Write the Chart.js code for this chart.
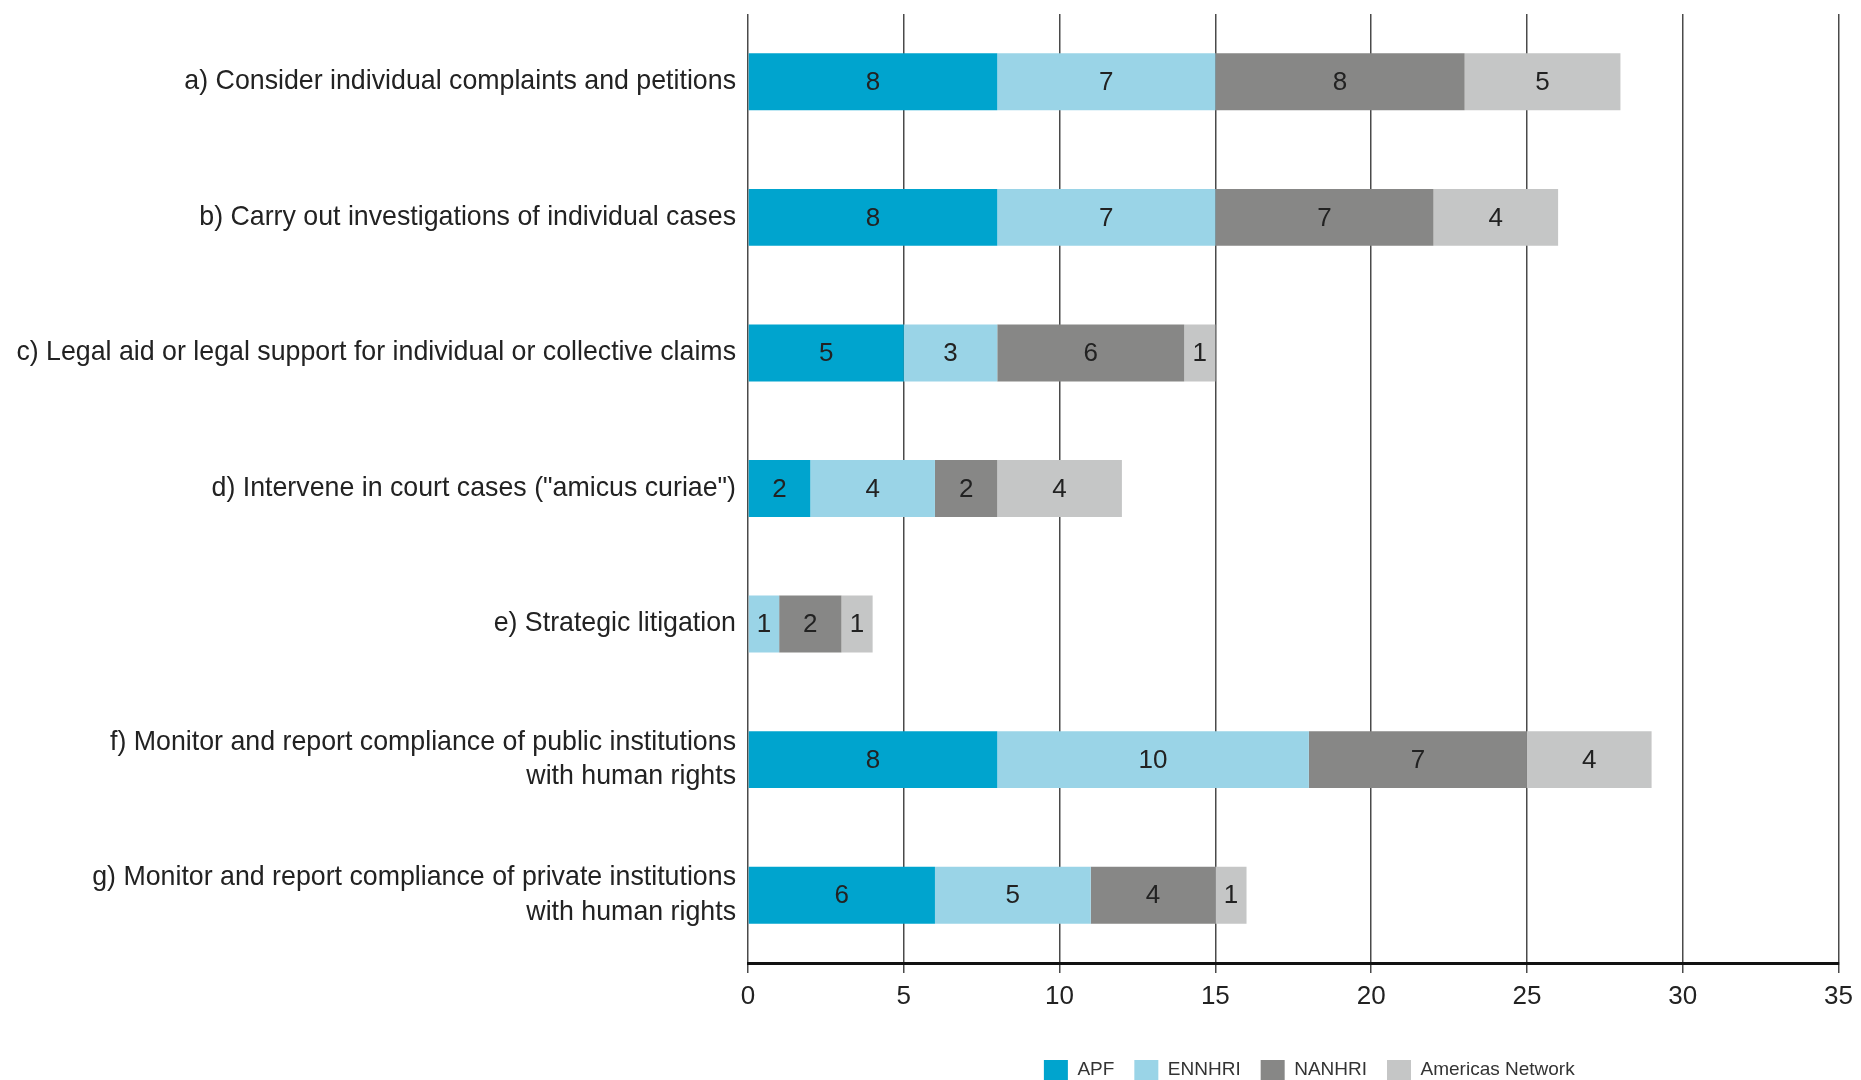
<!DOCTYPE html>
<html><head><meta charset="utf-8">
<script src="https://cdn.jsdelivr.net/npm/chart.js@4.4.1/dist/chart.umd.min.js"></script>
<style>html,body{margin:0;padding:0;background:#fff;overflow:hidden}canvas{display:block}</style>
</head><body>
<canvas id="c" width="1861" height="1080"></canvas>
<script>
const categories = [
  "a) Consider individual complaints and petitions",
  "b) Carry out investigations of individual cases",
  "c) Legal aid or legal support for individual or collective claims",
  "d) Intervene in court cases (\"amicus curiae\")",
  "e) Strategic litigation",
  ["f) Monitor and report compliance of public institutions", "with human rights"],
  ["g) Monitor and report compliance of private institutions", "with human rights"]
];
const seriesNames = ["APF", "ENNHRI", "NANHRI", "Americas Network"];
const apf      = [8, 8, 5, 2, 0, 8, 6];
const ennhri   = [7, 7, 3, 4, 1, 10, 5];
const nanhri   = [8, 7, 6, 2, 2, 7, 4];
const americas = [5, 4, 1, 4, 1, 4, 1];
const xTickValues = [0, 5, 10, 15, 20, 25, 30, 35];
const seriesColors = ["#00a4ce", "#9ad4e7", "#878786", "#c5c6c6"];

const FONT = "'Liberation Sans Narrow', 'Arial Narrow', 'Liberation Sans', sans-serif";

const valueLabels = {
  id: 'valueLabels',
  afterDatasetsDraw(chart) {
    const ctx = chart.ctx;
    ctx.save();
    ctx.font = "26px " + FONT;
    ctx.fillStyle = '#222';
    ctx.textAlign = 'center';
    ctx.textBaseline = 'middle';
    chart.data.datasets.forEach((ds, i) => {
      const meta = chart.getDatasetMeta(i);
      meta.data.forEach((el, j) => {
        const v = ds.data[j];
        if (!v) return;
        const p = el.getProps(['x', 'y', 'base'], true);
        ctx.fillText(String(v), (p.x + p.base) / 2, p.y + 1);
      });
    });
    ctx.restore();
  }
};

const legendShift = {
  id: 'legendShift',
  afterLayout(chart) {
    const lg = chart.legend;
    if (lg) { lg.left += 16; lg.right += 16; }
  }
};

const seriesData = [apf, ennhri, nanhri, americas];
const datasets = seriesNames.map((name, i) => ({
  label: name,
  data: seriesData[i],
  backgroundColor: seriesColors[i],
  borderWidth: 0,
  categoryPercentage: 1.0,
  barPercentage: 0.42
}));

new Chart(document.getElementById('c'), {
  type: 'bar',
  data: { labels: categories, datasets },
  plugins: [valueLabels, legendShift],
  options: {
    indexAxis: 'y',
    responsive: false,
    animation: false,
    devicePixelRatio: 1,
    layout: { padding: { left: 16, right: 21, top: 14, bottom: -10 } },
    plugins: {
      tooltip: { enabled: false },
      legend: {
        position: 'bottom',
        fullSize: false,
        labels: {
          boxWidth: 24,
          boxHeight: 20,
          padding: 20,
          color: '#333',
          font: { family: FONT, size: 19 }
        }
      }
    },
    scales: {
      x: {
        stacked: true,
        min: 0,
        max: 35,
        afterBuildTicks(scale) { scale.ticks = xTickValues.map(v => ({ value: v })); },
        afterFit(scale) { scale.height = 77; },
        ticks: { color: '#222', font: { family: FONT, size: 26 }, padding: 8 },
        grid: { color: '#4a4a4a', lineWidth: 1.5, tickLength: 10, drawTicks: true },
        border: { display: true, color: '#111', width: 3 }
      },
      y: {
        stacked: true,
        afterFit(scale) { scale.width = 732; scale.paddingTop = 0; scale.paddingBottom = 0; },
        grid: { display: false },
        border: { display: false },
        ticks: { color: '#222', font: { family: FONT, size: 26.75, lineHeight: 1.3 }, padding: 4 }
      }
    }
  }
});
</script>
</body></html>
